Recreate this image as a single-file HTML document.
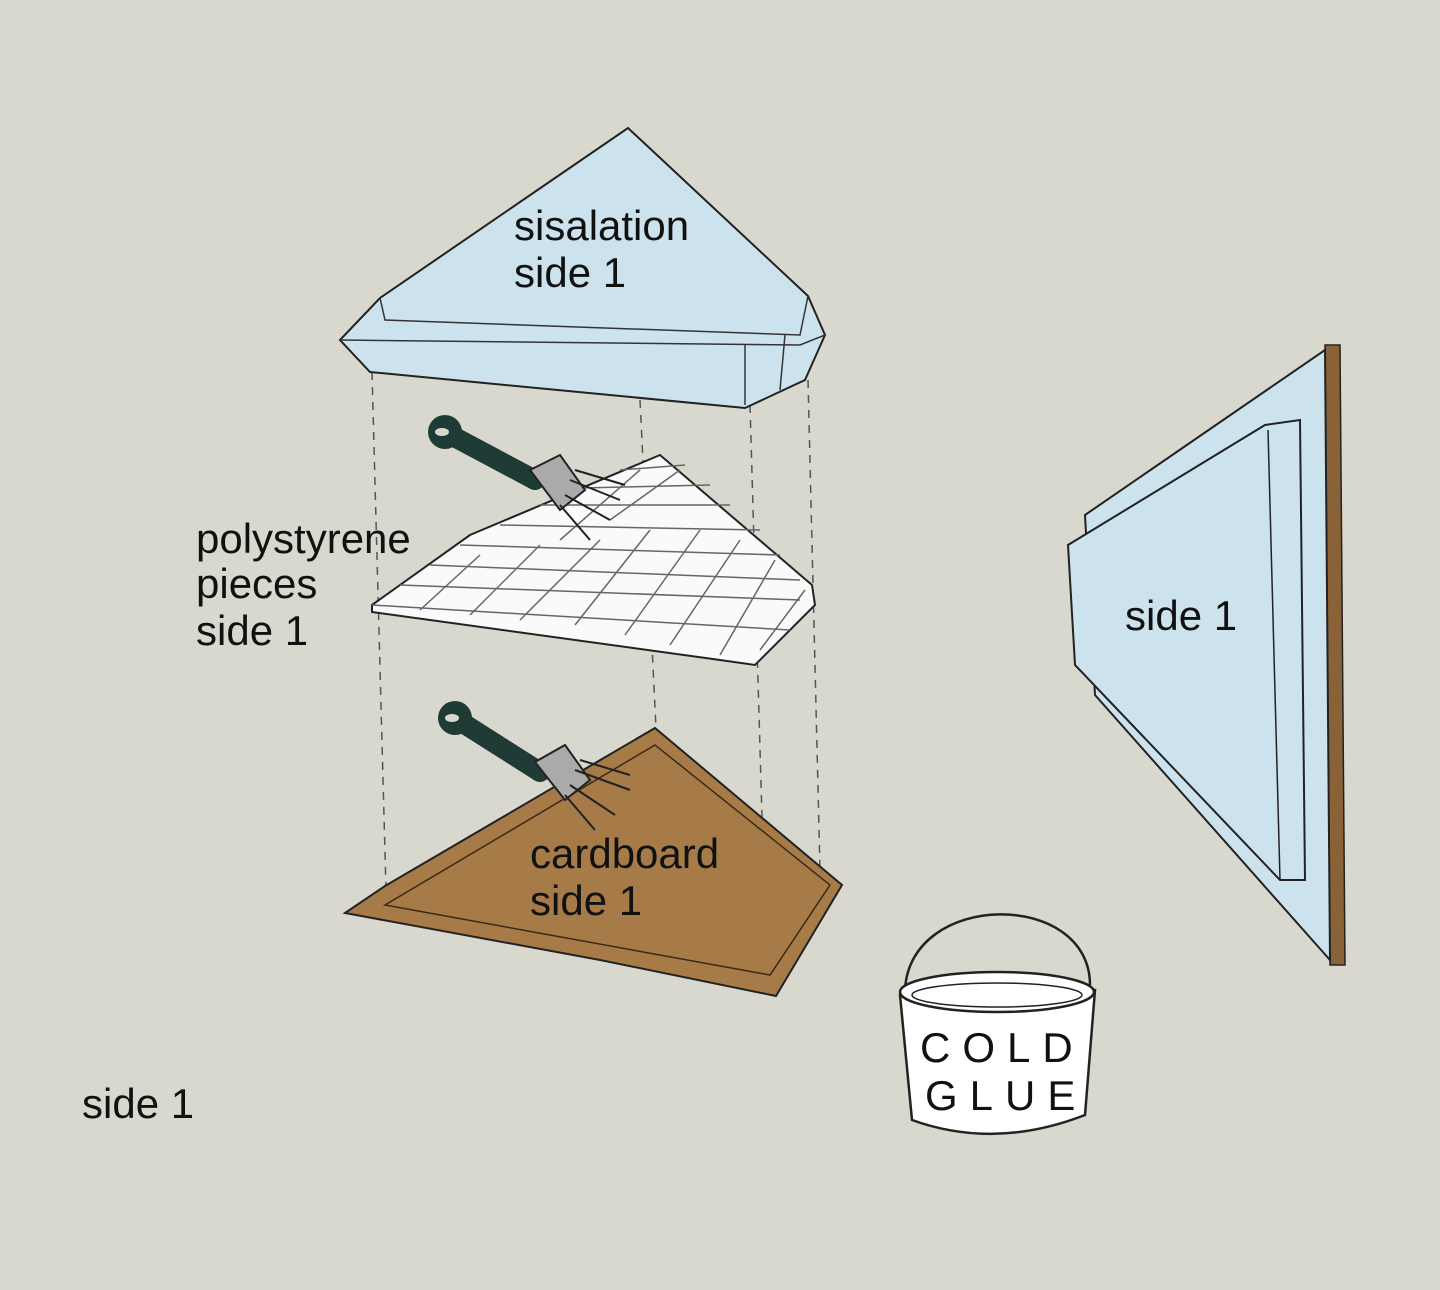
<!DOCTYPE html>
<html><head><meta charset="utf-8"><style>
html,body{margin:0;padding:0;background:#d9d8ce;}
svg{display:block}
text{font-family:"Liberation Sans",sans-serif;fill:#111;}
</style></head><body>
<svg width="1440" height="1290" viewBox="0 0 1440 1290" xmlns="http://www.w3.org/2000/svg">
<rect width="1440" height="1290" fill="#d9d8ce"/>
<!-- dashed guides -->
<g stroke="#555" stroke-width="1.5" stroke-dasharray="8,7" fill="none">
<line x1="372" y1="372" x2="386" y2="890"/>
<line x1="640" y1="400" x2="656" y2="728"/>
<line x1="750" y1="405" x2="766" y2="955"/>
<line x1="808" y1="380" x2="820" y2="870"/>
</g>
<!-- cardboard -->
<polygon points="345,913 385,886 655,728 842,885 776,996 600,960" fill="#a67b48" stroke="#222" stroke-width="2"/>
<polygon points="385,905 655,745 830,885 770,975" fill="none" stroke="#3a2a18" stroke-width="1.5"/>
<!-- polystyrene -->
<polygon points="372,605 470,535 660,455 812,585 815,605 755,665 720,660 372,612" fill="#fafafa" stroke="#222" stroke-width="2"/>
<g stroke="#666" stroke-width="1.5" fill="none">
<line x1="372" y1="605" x2="790" y2="630"/>
<line x1="400" y1="585" x2="800" y2="600"/>
<line x1="430" y1="565" x2="800" y2="580"/>
<line x1="460" y1="545" x2="780" y2="555"/>
<line x1="500" y1="525" x2="760" y2="530"/>
<line x1="540" y1="505" x2="730" y2="505"/>
<line x1="580" y1="488" x2="710" y2="485"/>
<line x1="620" y1="470" x2="685" y2="465"/>
<line x1="420" y1="610" x2="480" y2="555"/>
<line x1="470" y1="615" x2="540" y2="545"/>
<line x1="520" y1="620" x2="600" y2="540"/>
<line x1="575" y1="625" x2="650" y2="530"/>
<line x1="625" y1="635" x2="700" y2="530"/>
<line x1="670" y1="645" x2="740" y2="540"/>
<line x1="720" y1="655" x2="775" y2="560"/>
<line x1="760" y1="650" x2="805" y2="590"/>
<line x1="560" y1="540" x2="640" y2="470"/>
<line x1="610" y1="520" x2="680" y2="470"/>
</g>
<!-- sisalation -->
<polygon points="340,340 380,298 628,128 808,296 825,335 805,380 745,408 370,372" fill="#cce3ee" stroke="#222" stroke-width="2"/>
<g stroke="#333" stroke-width="1.5" fill="none">
<polyline points="380,298 385,320 800,335 808,296"/>
<polyline points="340,340 800,345 825,335"/>
<line x1="745" y1="345" x2="745" y2="405"/>
<line x1="785" y1="335" x2="780" y2="390"/>
</g>
<!-- brushes -->
<g>
<line x1="445" y1="432" x2="535" y2="480" stroke="#1e3b35" stroke-width="20" stroke-linecap="round"/>
<circle cx="445" cy="432" r="17" fill="#1e3b35"/><ellipse cx="442" cy="432" rx="7" ry="4" fill="#d9d8ce"/>
<polygon points="530,470 560,455 585,490 560,510" fill="#aaa" stroke="#222" stroke-width="2"/>
<g stroke="#222" stroke-width="2"><line x1="570" y1="480" x2="620" y2="500"/><line x1="565" y1="495" x2="610" y2="520"/><line x1="560" y1="505" x2="590" y2="540"/><line x1="575" y1="470" x2="625" y2="485"/></g>
<line x1="455" y1="718" x2="540" y2="772" stroke="#1e3b35" stroke-width="20" stroke-linecap="round"/>
<circle cx="455" cy="718" r="17" fill="#1e3b35"/><ellipse cx="452" cy="718" rx="7" ry="4" fill="#d9d8ce"/>
<polygon points="535,762 565,745 590,780 565,800" fill="#aaa" stroke="#222" stroke-width="2"/>
<g stroke="#222" stroke-width="2"><line x1="575" y1="770" x2="630" y2="790"/><line x1="570" y1="785" x2="615" y2="815"/><line x1="565" y1="795" x2="595" y2="830"/><line x1="580" y1="760" x2="630" y2="775"/></g>
</g>
<!-- right panel -->
<polygon points="1325,345 1340,345 1345,965 1330,965" fill="#8a6238" stroke="#222" stroke-width="1.5"/>
<polygon points="1085,515 1325,350 1330,960 1095,695" fill="#cce3ee" stroke="#222" stroke-width="2"/>
<polygon points="1068,545 1265,425 1300,420 1305,880 1280,880 1075,665" fill="#cce3ee" stroke="#222" stroke-width="2"/>
<line x1="1268" y1="430" x2="1280" y2="880" stroke="#222" stroke-width="1.5"/>
<!-- glue bucket -->
<path d="M905,990 C910,890 1090,890 1090,985" fill="none" stroke="#222" stroke-width="2.5"/>
<path d="M900,995 L912,1120 Q995,1150 1085,1115 L1095,990 Z" fill="#fff" stroke="#222" stroke-width="2.5"/>
<ellipse cx="997" cy="992" rx="97" ry="20" fill="#fff" stroke="#222" stroke-width="2.5"/>
<ellipse cx="997" cy="995" rx="85" ry="12" fill="none" stroke="#222" stroke-width="1.5"/>
<text x="920" y="1062" font-size="42" letter-spacing="12">COLD</text>
<text x="925" y="1110" font-size="42" letter-spacing="12">GLUE</text>
<!-- labels -->
<text x="514" y="240" font-size="42">sisalation</text>
<text x="514" y="287" font-size="42">side 1</text>
<text x="196" y="553" font-size="42">polystyrene</text>
<text x="196" y="598" font-size="42">pieces</text>
<text x="196" y="645" font-size="42">side 1</text>
<text x="530" y="868" font-size="42">cardboard</text>
<text x="530" y="915" font-size="42">side 1</text>
<text x="1125" y="630" font-size="42">side 1</text>
<text x="82" y="1118" font-size="42">side 1</text>
</svg>
</body></html>
